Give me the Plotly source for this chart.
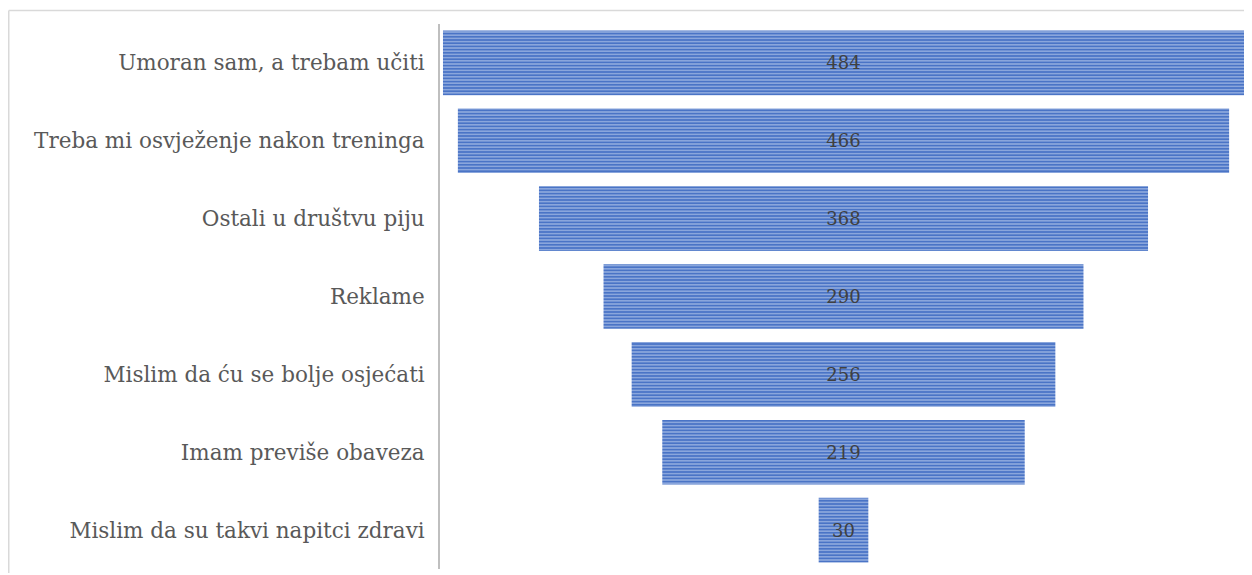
import plotly.graph_objects as go

categories = [
    "Umoran sam, a trebam učiti",
    "Treba mi osvježenje nakon treninga",
    "Ostali u društvu piju",
    "Reklame",
    "Mislim da ću se bolje osjećati",
    "Imam previše obaveza",
    "Mislim da su takvi napitci zdravi",
]
values = [484, 466, 368, 290, 256, 219, 30]

W, H = 1252, 575
ML, MR, MT, MB = 432, 13, 16, 14
pw = W - ML - MR
ph = H - MT - MB

fig = go.Figure()
fig.add_trace(go.Bar(
    y=categories,
    x=values,
    base=[-v / 2 for v in values],
    orientation="h",
    text=[str(v) for v in values],
    textposition="inside",
    insidetextanchor="middle",
    constraintext="none",
    textfont=dict(family="DejaVu Serif", size=18, color="#404040"),
    marker=dict(
        color="#4A74C6",
        line=dict(width=0),
        pattern=dict(shape="-", size=3.2, solidity=0.5,
                     fgcolor="#CAD7F1", bgcolor="#4A74C6"),
    ),
    hoverinfo="skip",
))

top_y = 1 + (MT - 2.5) / ph
left_x = (0.75 - ML) / pw
fig.update_layout(
    width=W, height=H,
    margin=dict(l=ML, r=MR, t=MT, b=MB),
    paper_bgcolor="white",
    plot_bgcolor="white",
    showlegend=False,
    bargap=0.17,
    xaxis=dict(range=[-243.8, 243.8], visible=False, fixedrange=True),
    yaxis=dict(
        autorange="reversed",
        showline=True, linecolor="#BFBFBF", linewidth=2,
        showgrid=False, zeroline=False,
        ticks="", ticklabelstandoff=9,
        tickfont=dict(family="DejaVu Serif", size=21.5, color="#595959"),
    ),
    shapes=[
        dict(type="line", xref="paper", yref="paper",
             x0=left_x, x1=1.05, y0=top_y, y1=top_y,
             line=dict(color="#D9D9D9", width=1.5)),
        dict(type="line", xref="paper", yref="paper",
             x0=left_x, x1=left_x, y0=top_y, y1=-(565 - (H - MB)) / ph,
             line=dict(color="#D9D9D9", width=1.5)),
    ],
)

fig.write_html("out.html")
